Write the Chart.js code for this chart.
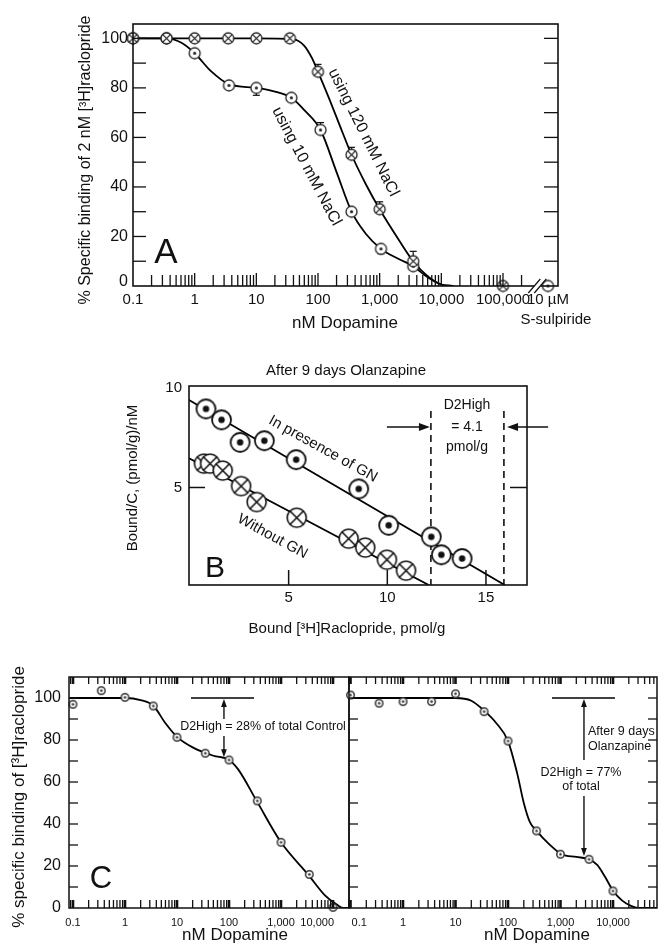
<!DOCTYPE html>
<html>
<head>
<meta charset="utf-8">
<title>Dopamine D2High binding</title>
<script src="https://cdn.jsdelivr.net/npm/chart.js@4.4.1/dist/chart.umd.min.js"></script>
<style>
  body { margin: 0; background: #fff; }
  #page { position: relative; width: 658px; height: 948px; overflow: hidden; background: #fff; }
  #page canvas { position: absolute; left: 0; top: 0; }
</style>
</head>
<body>
<div id="page">
  <canvas id="panelA" width="658" height="948"></canvas>
  <canvas id="panelB" width="658" height="948"></canvas>
  <canvas id="panelC1" width="658" height="948"></canvas>
  <canvas id="panelC2" width="658" height="948"></canvas>
</div>
<script>
// ---------- panel A : dopamine competition with 2 nM [3H]raclopride ----------
const doseA = [0.1, 0.35, 1, 3.5, 10, 35, 100, 350, 1000, 3500, 100000];
const nacl120 = [100, 100, 100, 100, 100, 100, 86.5, 53, 31, 10, 0];
const err120 = [0, 0, 0, 0, 0, 0, 3, 3, 3, 4, 0];
const doseA10 = [0.1, 0.35, 1, 3.6, 10, 37, 110, 350, 1050, 3500];
const nacl10 = [100, 100, 94, 81, 80, 76, 63, 30, 15, 8];
const err10 = [0, 0, 0, 1, -3, 0, 3, 0, -2, 0];
const sulpX = [536000];   // 10 uM S-sulpiride, sits past the axis break
const sulpY = [0];
const fit120X = [0.1, 10, 40, 60, 80, 100, 150, 250, 350, 600, 1000, 2000, 3500, 6000, 10000, 16000];
const fit120Y = [100, 100, 99.6, 97, 92, 86.5, 76, 62, 53, 41, 31, 19, 10, 4, 0.6, 0];
const fit10X = [0.1, 0.35, 0.6, 1, 1.8, 3.6, 10, 20, 37, 60, 110, 200, 350, 600, 1050, 2000, 3500, 6000, 10000, 16000];
const fit10Y = [100, 100, 98.3, 94, 87, 81.5, 80, 78.5, 76, 71, 63, 46, 30, 21, 15, 11, 8, 3.5, 0.6, 0];
const xLabA = [0.1, 1, 10, 100, 1000, 10000, 100000];
const xTxtA = ['0.1', '1', '10', '100', '1,000', '10,000', '100,000'];
const yLabA = [0, 20, 40, 60, 80, 100];
const yTickA = [10, 20, 30, 40, 50, 60, 70, 80, 90, 100];
const decA = [0.1, 1, 10, 100, 1000, 10000, 100000];

// ---------- panel B : Scatchard after 9 days olanzapine ----------
const gnX = [0.81, 1.6, 2.54, 3.77, 5.38, 8.55, 10.07, 12.23, 12.74, 13.79];
const gnY = [8.95, 8.4, 7.27, 7.35, 6.4, 4.93, 3.1, 2.52, 1.62, 1.43];
const noGnX = [0.71, 1.02, 1.66, 2.59, 3.38, 5.41, 8.04, 8.88, 9.98, 10.95];
const noGnY = [6.2, 6.2, 5.85, 5.07, 4.27, 3.48, 2.43, 1.98, 1.37, 0.82];
const gnLineX = [-0.05, 15.95];
const gnLineY = [9.4, 0.1];
const noGnLineX = [-0.05, 12.1];
const noGnLineY = [6.47, 0.1];
const dashX = [12.21, 15.91];
const xLabB = [5, 10, 15];
const yLabB = [5, 10];

// ---------- panel C : control vs olanzapine ----------
const doseC = [0.1, 0.35, 1, 3.5, 10, 35, 100, 350, 1000, 3500, 10000];
const controlC = [97, 103.5, 100.3, 96.2, 81.3, 73.7, 70.5, 51, 31.3, 16, 0.3];
const olanzC = [101.4, 97.5, 98.3, 98.3, 102, 93.5, 79.5, 36.7, 25.6, 23.2, 8.1];
const fitC1X = [0.084, 1, 2, 3.5, 6, 10, 20, 50, 100, 150, 340, 1000, 3300, 7000, 12000, 16000, 20000];
const fitC1Y = [100, 100, 99, 96.3, 88, 81.5, 76.5, 72.5, 70.5, 66, 51, 31.3, 16, 6, 1.5, 0, 0];
const fitC2X = [0.094, 10, 20, 35, 60, 100, 150, 200, 260, 350, 600, 1050, 2000, 3500, 5000, 7000, 10100, 15000, 22000, 30000, 68000];
const fitC2Y = [100, 100, 98.7, 94, 88, 79.5, 64, 50, 41, 36.7, 30.5, 25.6, 24.3, 23.2, 20.5, 15, 8.1, 3.5, 1, 0, 0];
const xLabC = [0.1, 1, 10, 100, 1000, 10000];
const xTxtC = ['0.1', '1', '10', '100', '1,000', '10,000'];
const yLabC = [0, 20, 40, 60, 80, 100];
const yTickC = [10, 20, 30, 40, 50, 60, 70, 80, 90, 100];
const decC = [0.01, 0.1, 1, 10, 100, 1000, 10000];

const W = 658, H = 948;
const FONT = '"Liberation Sans", Arial, Helvetica, sans-serif';

function pts(xs, ys) { return xs.map((x, i) => ({ x: x, y: ys[i] })); }

function marker(size, kind, lw, color, dotR) {
  const c = document.createElement('canvas');
  const s = Math.ceil(size + lw + 2);
  c.width = s; c.height = s;
  const g = c.getContext('2d');
  const m = s / 2, r = size / 2;
  g.lineWidth = lw; g.strokeStyle = color; g.fillStyle = '#fff';
  g.beginPath(); g.arc(m, m, r, 0, 2 * Math.PI); g.fill(); g.stroke();
  if (kind === 'cross') {
    const d = r * 0.707;
    g.beginPath();
    g.moveTo(m - d, m - d); g.lineTo(m + d, m + d);
    g.moveTo(m + d, m - d); g.lineTo(m - d, m + d);
    g.stroke();
  } else {
    g.fillStyle = color;
    g.beginPath(); g.arc(m, m, dotR, 0, 2 * Math.PI); g.fill();
  }
  return c;
}

function text(ctx, s, x, y, size, align, rot) {
  ctx.save();
  ctx.translate(x, y);
  if (rot) ctx.rotate(rot * Math.PI / 180);
  ctx.font = size + 'px ' + FONT;
  ctx.fillStyle = '#111';
  ctx.textAlign = align || 'center';
  ctx.textBaseline = 'middle';
  ctx.fillText(s, 0, 0);
  ctx.restore();
}

function seg(ctx, x1, y1, x2, y2) {
  ctx.beginPath(); ctx.moveTo(x1, y1); ctx.lineTo(x2, y2); ctx.stroke();
}

function arrow(ctx, x1, y1, x2, y2, head) {
  const ang = Math.atan2(y2 - y1, x2 - x1);
  seg(ctx, x1, y1, x2 - Math.cos(ang) * head * 0.7, y2 - Math.sin(ang) * head * 0.7);
  ctx.save();
  ctx.translate(x2, y2); ctx.rotate(ang);
  ctx.beginPath(); ctx.moveTo(0, 0); ctx.lineTo(-head, -head * 0.36); ctx.lineTo(-head, head * 0.36);
  ctx.closePath(); ctx.fill();
  ctx.restore();
}

// minor log ticks 2..10 of each decade, inside (lo, hi]
function logMarks(decades, lo, hi) {
  const out = [];
  decades.forEach(d => {
    for (let m = 2; m <= 10; m++) {
      const v = d * m;
      if (v > lo * 1.0001 && v <= hi) out.push({ v: v, major: m === 10 });
    }
  });
  return out;
}

function baseOptions(box, xType, xMin, xMax, yMin, yMax) {
  return {
    responsive: false,
    animation: false,
    devicePixelRatio: 1,
    events: [],
    layout: {
      autoPadding: false,
      padding: { left: box[0], top: box[1], right: W - box[2], bottom: H - box[3] }
    },
    plugins: { legend: { display: false }, tooltip: { enabled: false }, title: { display: false } },
    scales: {
      x: { type: xType, min: xMin, max: xMax, display: false, bounds: 'data' },
      y: { type: 'linear', min: yMin, max: yMax, display: false, bounds: 'data' }
    }
  };
}

function curve(xs, ys, w) {
  return { data: pts(xs, ys), showLine: true, pointRadius: 0, borderColor: '#000',
    borderWidth: w, cubicInterpolationMode: 'monotone', fill: false, order: 2 };
}
function straight(xs, ys, w, dash) {
  return { data: pts(xs, ys), showLine: true, pointRadius: 0, borderColor: '#000',
    borderWidth: w, borderDash: dash || [], fill: false, order: 2 };
}
function marks(xs, ys, style) {
  return { data: pts(xs, ys), showLine: false, pointStyle: style, pointRadius: 6, clip: false, order: 0 };
}

// ================= panel A =================
const crossA = marker(11, 'cross', 1.3, '#222');
const dotA = marker(11, 'dot', 1.3, '#222', 1.6);

function drawErr(chart, xs, ys, es) {
  const ctx = chart.ctx, X = chart.scales.x, Y = chart.scales.y;
  xs.forEach((x, i) => {
    if (!es[i]) return;
    const px = X.getPixelForValue(x), y0 = Y.getPixelForValue(ys[i]), y1 = Y.getPixelForValue(ys[i] + es[i]);
    seg(ctx, px, y0, px, y1);
    seg(ctx, px - 3.5, y1, px + 3.5, y1);
  });
}

const plugA = {
  id: 'decoA',
  beforeDatasetsDraw(chart) {
    const ctx = chart.ctx;
    ctx.save(); ctx.strokeStyle = '#111'; ctx.lineWidth = 1.2;
    drawErr(chart, doseA, nacl120, err120);
    drawErr(chart, doseA10, nacl10, err10);
    ctx.restore();
  },
  afterDraw(chart) {
    const ctx = chart.ctx, a = chart.chartArea, X = chart.scales.x, Y = chart.scales.y;
    ctx.save();
    ctx.strokeStyle = '#111'; ctx.fillStyle = '#111';
    ctx.lineWidth = 1.6;
    ctx.strokeRect(a.left, a.top, a.right - a.left, a.bottom - a.top);
    ctx.lineWidth = 1.3;
    yTickA.forEach(v => {
      const y = Y.getPixelForValue(v);
      seg(ctx, a.left, y, a.left + 13, y);
      seg(ctx, a.right - 14, y, a.right, y);
    });
    logMarks(decA, 0.1, 200001).forEach(t => {
      const x = X.getPixelForValue(t.v);
      seg(ctx, x, a.bottom, x, a.bottom - (t.major ? 13 : 11));
    });
    // axis break before the S-sulpiride point
    const bx = X.getPixelForValue(360000);
    ctx.fillStyle = '#fff';
    ctx.fillRect(bx - 3, a.bottom - 2, 6, 4);
    ctx.lineWidth = 1.2;
    seg(ctx, bx - 9, a.bottom + 7, bx + 3, a.bottom - 7);
    seg(ctx, bx - 3, a.bottom + 7, bx + 9, a.bottom - 7);
    ctx.restore();

    xLabA.forEach((v, i) => text(ctx, xTxtA[i], X.getPixelForValue(v), 300, 15));
    text(ctx, '10 \u00b5M', X.getPixelForValue(sulpX[0]), 300, 15);
    text(ctx, 'S-sulpiride', 556, 320, 15);
    yLabA.forEach(v => text(ctx, String(v), 128, Y.getPixelForValue(v) - (v === 0 ? 4 : 0), 16, 'right'));
    text(ctx, 'nM Dopamine', 345, 323, 17);
    text(ctx, '% Specific binding of 2 nM [\u00b3H]raclopride', 86, 160, 16, 'center', -90);
    text(ctx, 'A', 166, 253, 35);
    text(ctx, 'using 120 mM NaCl', 363.5, 132.5, 16, 'center', 63.6);
    text(ctx, 'using 10 mM NaCl', 306.5, 166.5, 16, 'center', 62.2);
  }
};

new Chart(document.getElementById('panelA'), {
  type: 'scatter',
  data: {
    datasets: [
      marks(doseA, nacl120, crossA),
      marks(doseA10, nacl10, dotA),
      marks(sulpX, sulpY, dotA),
      curve(fit120X, fit120Y, 1.8),
      curve(fit10X, fit10Y, 1.8)
    ]
  },
  options: baseOptions([133, 24, 558, 286], 'logarithmic', 0.1, 780000, 0, 105.8),
  plugins: [plugA]
});

// ================= panel B =================
const dotB = marker(19, 'dot', 1.8, '#111', 3.2);
const crossB = marker(19, 'cross', 1.6, '#111');

const plugB = {
  id: 'decoB',
  afterDraw(chart) {
    const ctx = chart.ctx, a = chart.chartArea, X = chart.scales.x, Y = chart.scales.y;
    ctx.save();
    ctx.strokeStyle = '#111'; ctx.fillStyle = '#111';
    ctx.lineWidth = 1.6;
    ctx.strokeRect(a.left, a.top, a.right - a.left, a.bottom - a.top);
    ctx.lineWidth = 1.5;
    const y5 = Y.getPixelForValue(5);
    seg(ctx, a.left, y5, a.left + 16, y5);
    seg(ctx, a.right - 17, y5, a.right, y5);
    xLabB.forEach(v => {
      const x = X.getPixelForValue(v);
      seg(ctx, x, a.bottom, x, a.bottom - 15);
    });
    // D2High bracket arrows
    ctx.lineWidth = 1.4;
    const ya = Y.getPixelForValue(8.04);
    arrow(ctx, X.getPixelForValue(9.98), ya, X.getPixelForValue(12.16), ya, 11);
    arrow(ctx, X.getPixelForValue(18.15), ya, X.getPixelForValue(16.07), ya, 11);
    ctx.restore();

    yLabB.forEach(v => text(ctx, String(v), 182, Y.getPixelForValue(v), 15, 'right'));
    xLabB.forEach(v => text(ctx, String(v), X.getPixelForValue(v), 598, 15));
    text(ctx, 'After 9 days Olanzapine', 346, 371, 15);
    text(ctx, 'Bound [\u00b3H]Raclopride, pmol/g', 347, 629, 15);
    text(ctx, 'Bound/C, (pmol/g)/nM', 133, 478, 15, 'center', -90);
    text(ctx, 'D2High', 467, 405, 14);
    text(ctx, '= 4.1', 467, 427, 14);
    text(ctx, 'pmol/g', 467, 447, 14);
    text(ctx, 'In presence of GN', 323, 449, 15, 'center', 29);
    text(ctx, 'Without GN', 272.5, 536.5, 15, 'center', 28.6);
    text(ctx, 'B', 215, 569, 30);
  }
};

new Chart(document.getElementById('panelB'), {
  type: 'scatter',
  data: {
    datasets: [
      marks(gnX, gnY, dotB),
      marks(noGnX, noGnY, crossB),
      straight(gnLineX, gnLineY, 1.8),
      straight(noGnLineX, noGnLineY, 1.8),
      straight([dashX[0], dashX[0]], [8.85, 0.1], 1.5, [7, 5]),
      straight([dashX[1], dashX[1]], [8.85, 0.1], 1.5, [7, 5])
    ]
  },
  options: baseOptions([189, 386, 527, 585], 'linear', -0.05, 17.08, 0.1, 10.1),
  plugins: [plugB]
});

// ================= panel C =================
const dotC = marker(7.5, 'dot', 1.5, '#333', 1.3);

function plugC(cfg) {
  return {
    id: 'decoC',
    afterDraw(chart) {
      const ctx = chart.ctx, a = chart.chartArea, X = chart.scales.x, Y = chart.scales.y;
      ctx.save();
      ctx.strokeStyle = '#111'; ctx.fillStyle = '#111';
      ctx.lineWidth = 1.5;
      ctx.strokeRect(a.left, a.top, a.right - a.left, a.bottom - a.top);
      ctx.lineWidth = 1.3;
      yTickC.forEach(v => {
        const y = Y.getPixelForValue(v);
        seg(ctx, a.left, y, a.left + 9, y);
        if (cfg.rightTicks) seg(ctx, a.right - 9, y, a.right, y);
      });
      logMarks(decC, X.min, X.max).forEach(t => {
        const x = X.getPixelForValue(t.v);
        ctx.lineWidth = t.major ? 2.6 : 1.3;
        seg(ctx, x, a.top, x, a.top + 7);
        seg(ctx, x, a.bottom, x, a.bottom - 8);
      });
      ctx.restore();

      xLabC.forEach((v, i) => {
        let align = 'center', x = X.getPixelForValue(v);
        if (cfg.side === 'left' && v === 10000) { align = 'right'; x += 1; }
        if (cfg.side === 'right' && v === 0.1) { align = 'left'; x += 1; }
        text(ctx, xTxtC[i], x, 923, 11, align);
      });
      text(ctx, 'nM Dopamine', cfg.titleX, 935, 17);

      // D2High arrows and notes
      ctx.save();
      ctx.strokeStyle = '#111'; ctx.fillStyle = '#111'; ctx.lineWidth = 1.4;
      const ax = X.getPixelForValue(cfg.arrowX);
      const yTop = Y.getPixelForValue(100) + 1;
      const yBot = Y.getPixelForValue(cfg.arrowEnd);
      const yMid = cfg.noteY;
      arrow(ctx, ax, yMid, ax, yTop, 8);
      arrow(ctx, ax, yMid, ax, yBot, 8);
      ctx.fillStyle = '#fff';
      ctx.fillRect(ax - 4, cfg.gap[0], 8, cfg.gap[1] - cfg.gap[0]);
      ctx.restore();
      cfg.notes.forEach(n => text(ctx, n[0], n[1], n[2], 12.5, n[3] || 'center'));

      if (cfg.side === 'left') {
        yLabC.forEach(v => text(ctx, String(v), 61, Y.getPixelForValue(v), 16, 'right'));
        text(ctx, '% specific binding of [\u00b3H]raclopride', 19, 797, 17, 'center', -90);
        text(ctx, 'C', 101, 879, 31);
      }
    }
  };
}

new Chart(document.getElementById('panelC1'), {
  type: 'scatter',
  data: {
    datasets: [
      marks(doseC, controlC, dotC),
      curve(fitC1X, fitC1Y, 1.8),
      straight([18.6, 302], [100, 100], 1.5)
    ]
  },
  options: baseOptions([69, 677, 349, 908], 'logarithmic', 0.0838, 20300, 0, 110),
  plugins: [plugC({
    side: 'left', rightTicks: false, titleX: 235,
    arrowX: 80, arrowEnd: 71.8, noteY: 727, gap: [719, 736],
    notes: [['D2High = 28% of total Control', 263, 727]]
  })]
});

new Chart(document.getElementById('panelC2'), {
  type: 'scatter',
  data: {
    datasets: [
      marks(doseC, olanzC, dotC),
      curve(fitC2X, fitC2Y, 1.8),
      straight([689, 10900], [100, 100], 1.5)
    ]
  },
  options: baseOptions([349, 677, 657, 908], 'logarithmic', 0.0936, 68900, 0, 110),
  plugins: [plugC({
    side: 'right', rightTicks: true, titleX: 537,
    arrowX: 2800, arrowEnd: 24.8, noteY: 778, gap: [760, 796],
    notes: [['After 9 days', 588, 732, 'left'], ['Olanzapine', 588, 747, 'left'],
            ['D2High = 77%', 581, 773], ['of total', 581, 787]]
  })]
});
</script>
</body>
</html>
